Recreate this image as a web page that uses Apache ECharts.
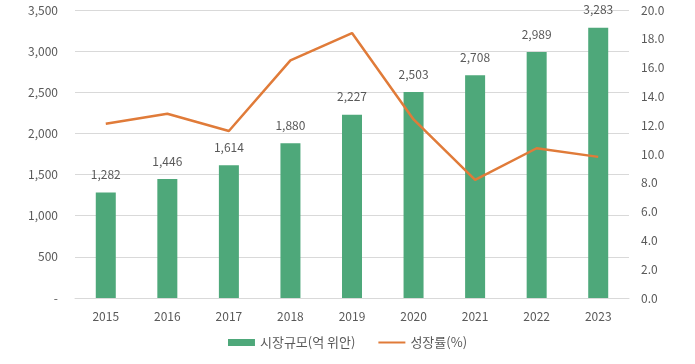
<!DOCTYPE html>
<html><head><meta charset="utf-8">
<script src="https://cdn.jsdelivr.net/npm/echarts@6/dist/echarts.min.js"></script>
<style>html,body{margin:0;padding:0;background:#fff}#c{width:695px;height:364px}</style>
</head><body><div id="c"></div>
<script>
const categories = ['2015','2016','2017','2018','2019','2020','2021','2022','2023'];
const marketSize = [1282,1446,1614,1880,2227,2503,2708,2989,3283];
const growthRate = [12.1,12.8,11.6,16.5,18.4,12.4,8.2,10.4,9.8];
const leftTicks = {min:0,max:3500,interval:500};
const rightTicks = {min:0,max:20,interval:2};
const font = '"Noto Sans CJK KR", "Noto Sans", sans-serif';
const chart = echarts.init(document.getElementById('c'));
chart.setOption({
  animation:false,
  textStyle:{fontFamily:font},
  grid:{left:75,right:66,top:10,bottom:66},
  legend:{
    bottom:10,left:'center',itemGap:22,itemWidth:27,itemHeight:7,
    textStyle:{color:'#595959',fontSize:13,fontFamily:font},
    data:[{name:'시장규모(억 위안)',icon:'rect'},{name:'성장률(%)',itemStyle:{opacity:0}}]
  },
  xAxis:{type:'category',data:categories,
    axisLine:{lineStyle:{color:'#d9d9d9'}},axisTick:{show:false},
    axisLabel:{color:'#595959',fontSize:12,margin:12}},
  yAxis:[
    {type:'value',min:leftTicks.min,max:leftTicks.max,interval:leftTicks.interval,
     axisLine:{show:false},axisTick:{show:false},
     splitLine:{lineStyle:{color:'#d9d9d9'}},
     axisLabel:{color:'#595959',fontSize:12,margin:17,
       formatter:v=>v===0?'-':v.toLocaleString('en-US')}},
    {type:'value',min:rightTicks.min,max:rightTicks.max,interval:rightTicks.interval,
     axisLine:{show:false},axisTick:{show:false},splitLine:{show:false},
     axisLabel:{color:'#595959',fontSize:12,margin:12,formatter:v=>v.toFixed(1)}}
  ],
  series:[
    {name:'시장규모(억 위안)',type:'bar',data:marketSize,barWidth:20,
     itemStyle:{color:'#4EA87A'},
     label:{show:true,position:'top',distance:12,color:'#595959',fontSize:12,
       formatter:p=>p.value.toLocaleString('en-US')}},
    {name:'성장률(%)',type:'line',yAxisIndex:1,data:growthRate,
     symbol:'none',lineStyle:{color:'#E07B39',width:2.5},itemStyle:{color:'#E07B39'}}
  ]
});
</script></body></html>
